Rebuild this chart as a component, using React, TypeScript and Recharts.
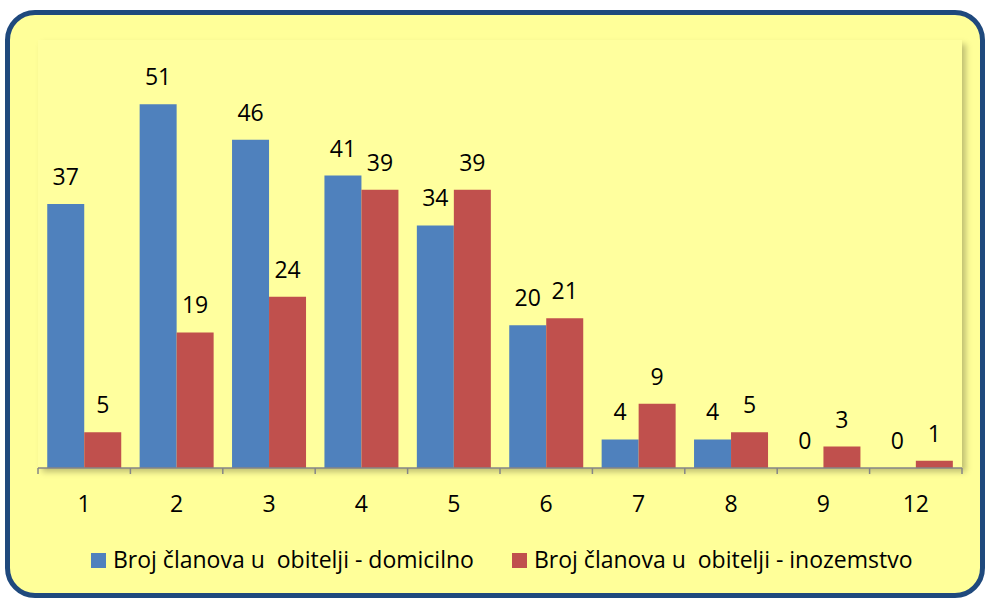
import React from 'react';
import { BarChart, Bar, XAxis, YAxis, LabelList } from 'recharts';

const categories = ['1', '2', '3', '4', '5', '6', '7', '8', '9', '12'];
const domicilno = [37, 51, 46, 41, 34, 20, 4, 4, 0, 0];
const inozemstvo = [5, 19, 24, 39, 39, 21, 9, 5, 3, 1];

const seriesNames = {
  domicilno: 'Broj članova u  obitelji - domicilno',
  inozemstvo: 'Broj članova u  obitelji - inozemstvo',
};

const data = categories.map((c, i) => ({
  cat: c,
  domicilno: domicilno[i],
  inozemstvo: inozemstvo[i],
}));

const BLUE = '#4F81BD';
const RED = '#C0504D';
const FONT = '"Open Sans", Lato, sans-serif';

const W = 990;
const H = 603;
const margin = { top: 40, right: 28, bottom: 40, left: 38 };
const AXIS_H = 95;
const axisY = H - margin.bottom - AXIS_H;
const band = (W - margin.left - margin.right) / categories.length;

// tick marks sit between categories, not under them
function CatTick(props: any) {
  const { x, payload, index } = props;
  const last = index === categories.length - 1;
  return (
    <g>
      <line x1={x - band / 2} x2={x - band / 2} y1={axisY} y2={axisY + 6} stroke="#868686" strokeWidth={1.5} />
      {last && (
        <line x1={x + band / 2} x2={x + band / 2} y1={axisY} y2={axisY + 6} stroke="#868686" strokeWidth={1.5} />
      )}
      <text x={x} y={axisY + 44} textAnchor="middle" fontSize={23} fontFamily={FONT} fill="#000">
        {payload.value}
      </text>
    </g>
  );
}

function LegendBox() {
  const items = [
    { color: BLUE, label: seriesNames.domicilno, x: 91 },
    { color: RED, label: seriesNames.inozemstvo, x: 512 },
  ];
  return (
    <svg width={W} height={60} style={{ position: 'absolute', left: 0, top: 530 }}>
      {items.map((it) => (
        <g key={it.label}>
          <rect x={it.x} y={23} width={15} height={15} fill={it.color} />
          <text x={it.x + 22} y={38} fontSize={23} fontFamily={FONT} fill="#000" style={{ whiteSpace: 'pre' }}>
            {it.label}
          </text>
        </g>
      ))}
    </svg>
  );
}

export default function App() {
  return (
    <div style={{ position: 'absolute', left: 0, top: 0, width: W, height: H, background: '#fff', fontFamily: FONT }}>
      <div
        style={{
          position: 'absolute',
          left: 5,
          top: 10,
          width: 980,
          height: 588,
          boxSizing: 'border-box',
          border: '5px solid #1F497D',
          borderRadius: 30,
          background: '#FFFF99',
        }}
      />
      <div
        style={{
          position: 'absolute',
          left: margin.left,
          top: margin.top,
          width: W - margin.left - margin.right,
          height: axisY - margin.top,
          background: '#FFFF9E',
          boxShadow: '4px 4px 6px rgba(0,0,0,0.25)',
        }}
      />
      <BarChart
        width={W}
        height={H}
        data={data}
        margin={margin}
        barCategoryGap="10%"
        barGap={0}
        style={{ position: 'absolute', left: 0, top: 0 }}
      >
        <XAxis
          dataKey="cat"
          height={AXIS_H}
          axisLine={{ stroke: '#868686', strokeWidth: 1.5 }}
          tickLine={false}
          tick={<CatTick />}
          interval={0}
        />
        <YAxis hide domain={[0, 60]} />
        <Bar dataKey="domicilno" name={seriesNames.domicilno} fill={BLUE} minPointSize={0.01} isAnimationActive={false}>
          <LabelList dataKey="domicilno" position="top" offset={19} fontSize={23} fontFamily={FONT} fill="#000" />
        </Bar>
        <Bar dataKey="inozemstvo" name={seriesNames.inozemstvo} fill={RED} isAnimationActive={false}>
          <LabelList dataKey="inozemstvo" position="top" offset={19} fontSize={23} fontFamily={FONT} fill="#000" />
        </Bar>
      </BarChart>
      <LegendBox />
    </div>
  );
}
